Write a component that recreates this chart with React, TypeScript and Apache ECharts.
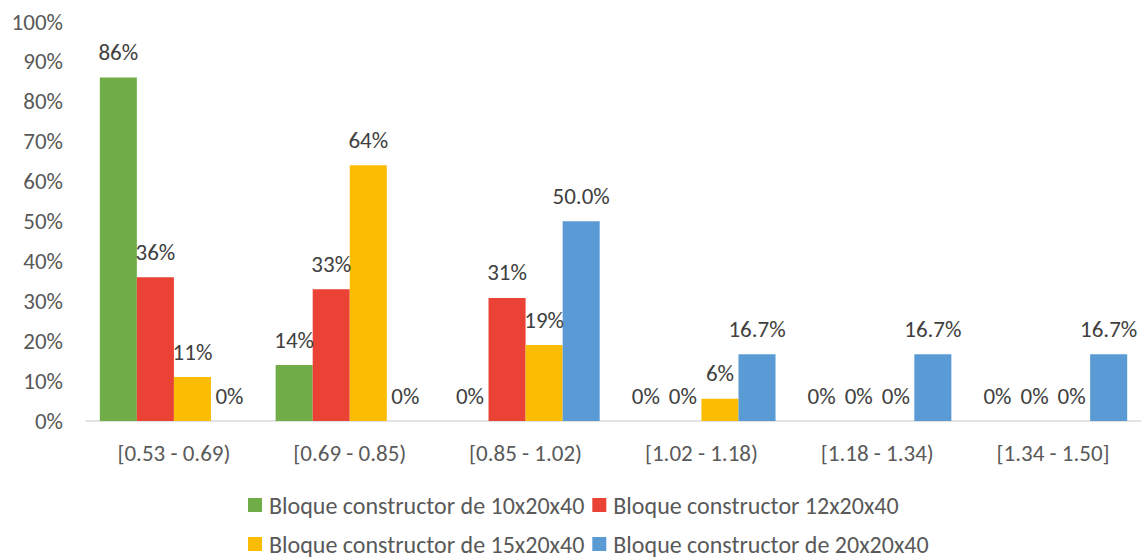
import React, { useEffect, useRef } from "react";
import * as echarts from "echarts";

const categories = ["[0.53 - 0.69)", "[0.69 - 0.85)", "[0.85 - 1.02)", "[1.02 - 1.18)", "[1.18 - 1.34)", "[1.34 - 1.50]"];
const seriesNames = [
  "Bloque constructor de 10x20x40",
  "Bloque constructor 12x20x40",
  "Bloque constructor de 15x20x40",
  "Bloque constructor de 20x20x40",
];
const block10 = [86, 14, 0, 0, 0, 0];
const block12 = [36, 33, 30.8, 0, 0, 0];
const block15 = [11, 64, 19, 5.6, 0, 0];
const block20 = [0, 0, 50, 16.7, 16.7, 16.7];
const decimals = [0, 0, 0, 1];
const colors = ["#70ad47", "#ea4335", "#fbbc04", "#5b9bd5"];
const yTicks = [0, 10, 20, 30, 40, 50, 60, 70, 80, 90, 100];

const FONT = "Carlito, Calibri, Lato, sans-serif";
const FS = 23;

export default function App() {
  const ref = useRef<HTMLDivElement>(null);
  useEffect(() => {
    if (!ref.current) return;
    const chart = echarts.init(ref.current, undefined, { renderer: "svg" });
    const data = [block10, block12, block15, block20];
    const legendBase = {
      left: 248,
      padding: 0,
      icon: "rect",
      itemWidth: 14,
      itemHeight: 14,
      itemGap: 8,
      textStyle: { color: "#595959", fontSize: 24, lineHeight: 24, fontFamily: FONT, padding: [0, 0, 0, 2] },
    };
    chart.setOption({
      animation: false,
      textStyle: { fontFamily: FONT },
      grid: { left: 86, right: 0, top: 21.5, bottom: 139, containLabel: false },
      legend: [
        { ...legendBase, data: seriesNames.slice(0, 2), top: 493 },
        { ...legendBase, data: seriesNames.slice(2, 4), top: 532 },
      ],
      xAxis: {
        type: "category",
        data: categories,
        axisLine: { lineStyle: { color: "#d9d9d9", width: 1.5 } },
        axisTick: { show: false },
        axisLabel: { color: "#595959", fontSize: FS, lineHeight: 23, fontFamily: FONT, margin: 20 },
      },
      yAxis: {
        type: "value",
        min: 0,
        max: yTicks[yTicks.length - 1],
        interval: 10,
        axisLine: { show: false },
        axisTick: { show: false },
        splitLine: { show: false },
        axisLabel: { color: "#595959", fontSize: FS, fontFamily: FONT, margin: 23, formatter: "{value}%" },
      },
      series: seriesNames.map((name, i) => ({
        name,
        type: "bar",
        data: data[i],
        barGap: "0%",
        barCategoryGap: "15.7%",
        itemStyle: { color: colors[i] },
        label: {
          show: true,
          position: "top",
          distance: 14,
          color: "#404040",
          fontSize: FS,
          lineHeight: 23,
          fontFamily: FONT,
          formatter: (p: any) => (p.value === 0 ? "0%" : p.value.toFixed(decimals[i]) + "%"),
        },
      })),
    });
    return () => chart.dispose();
  }, []);
  return <div ref={ref} style={{ width: 1141, height: 560, position: "absolute", left: 0, top: 0 }} />;
}
